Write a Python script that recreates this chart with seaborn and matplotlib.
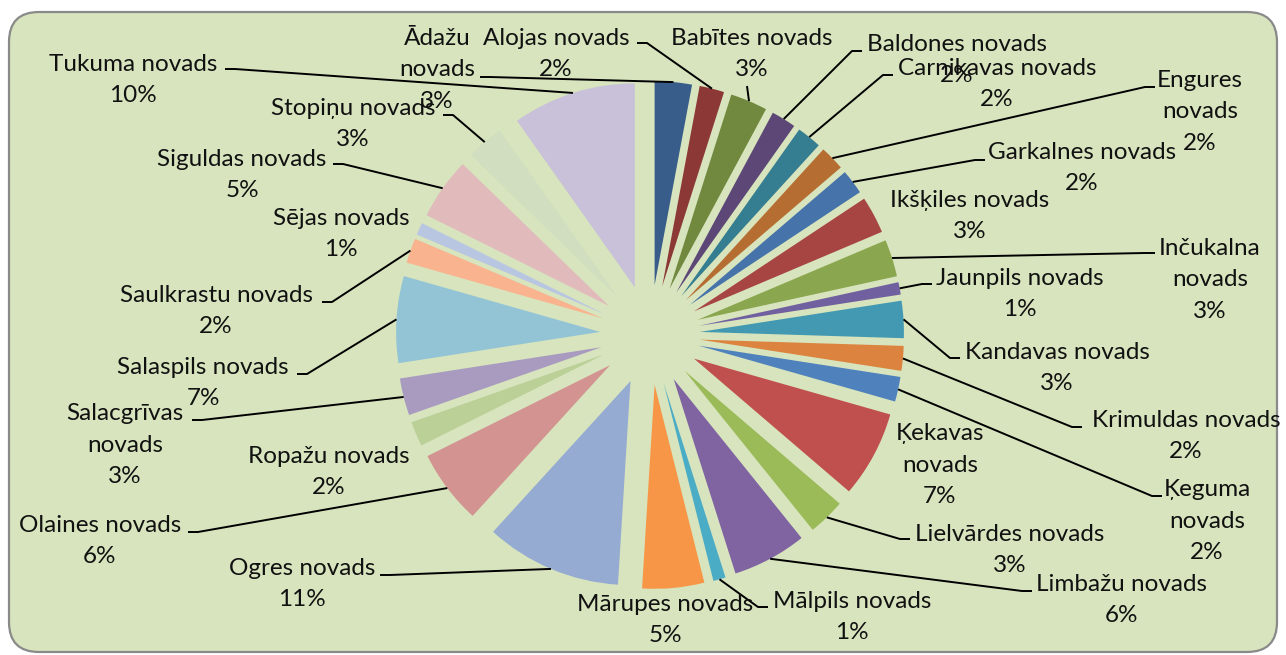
import matplotlib
matplotlib.use("Agg")
import matplotlib.pyplot as plt
from matplotlib.patches import FancyBboxPatch
import seaborn as sns
import numpy as np

# Novadi un to daļa (%)
novadi = [
    "Ādažu novads", "Alojas novads", "Babītes novads", "Baldones novads",
    "Carnikavas novads", "Engures novads", "Garkalnes novads", "Ikšķiles novads",
    "Inčukalna novads", "Jaunpils novads", "Kandavas novads", "Krimuldas novads",
    "Ķeguma novads", "Ķekavas novads", "Lielvārdes novads", "Limbažu novads",
    "Mālpils novads", "Mārupes novads", "Ogres novads", "Olaines novads",
    "Ropažu novads", "Salacgrīvas novads", "Salaspils novads", "Saulkrastu novads",
    "Sējas novads", "Siguldas novads", "Stopiņu novads", "Tukuma novads",
]
procenti = [3, 2, 3, 2, 2, 2, 2, 3, 3, 1, 3, 2, 2, 7, 3, 6, 1, 5, 11, 6, 2, 3, 7, 2, 1, 5, 3, 10]

# nosaukumi, kas etiķetē lauzti divās rindās
lauzti = {"Ādažu novads", "Engures novads", "Inčukalna novads", "Ķekavas novads",
          "Ķeguma novads", "Salacgrīvas novads"}

krasas = [
    "#385D8A", "#8C3836", "#71893F", "#5C4776", "#357D91", "#B66D31",
    "#4673AA", "#A74543", "#8AA64E", "#7160A0", "#4399B2", "#DC843F",
    "#4F81BD", "#C0504D", "#9BBB59", "#8064A2", "#4BACC6", "#F79646",
    "#95ABD2", "#D39391", "#BAD097", "#A99BC0", "#92C4D6", "#F9B48F",
    "#B9C6E2", "#E1BBBB", "#D1DEBF", "#C8C1D9",
]

# etiķešu centri un līniju sākumpunkti (attēla pikseļos, y no augšas)
etiketes_xy = [
    (437, 70), (556, 54), (752, 54), (957, 60), (997, 84), (1200, 112),
    (1082, 168), (970, 216), (1210, 280), (1020, 294), (1057, 368), (1186, 436),
    (1207, 521), (940, 465), (1010, 550), (1121, 600), (852, 617), (665, 620),
    (302, 584), (100, 541), (329, 472), (125, 445), (203, 383), (216, 311),
    (341, 234), (242, 175), (353, 124), (133, 80),
]
liniju_sakums = [
    (480, 77), (637, 43), (747, 86), (862, 51), (893, 75), (1155, 87),
    (985, 160), None, (1155, 253), (932, 284), (960, 358), (1082, 427),
    (1162, 496), None, (910, 539), (1032, 591), (768, 607), None,
    (380, 575), (188, 532), None, (192, 420), (297, 374), (322, 302),
    None, (333, 164), (443, 115), (225, 69),
]

W, H = 1286, 655
sns.set_theme(style="white")
plt.rcParams["font.family"] = ["Lato", "DejaVu Sans"]

fig = plt.figure(figsize=(W / 100, H / 100), dpi=100)
fig.patch.set_facecolor("white")
ax = fig.add_axes([0, 0, 1, 1])

fons = FancyBboxPatch((9, 3), 1268, 640, boxstyle="round,pad=0,rounding_size=30",
                      facecolor="#D7E4BD", edgecolor="#8A8A8A", linewidth=1.6, zorder=0)
ax.add_patch(fons)

cx, cy, r = 650, H - 335, 204
wedges, _ = ax.pie(procenti, colors=krasas, startangle=90, counterclock=False,
                   explode=[50] * len(procenti), center=(cx, cy), radius=r,
                   wedgeprops=dict(linewidth=0), frame=True)
ax.set_xlim(0, W)
ax.set_ylim(0, H)
ax.set_aspect("equal")
ax.axis("off")

for w, nosaukums, p, (tx, ty), sak in zip(wedges, novadi, procenti, etiketes_xy, liniju_sakums):
    if nosaukums in lauzti:
        teksts = nosaukums.replace(" ", "\n") + f"\n{p}%"
    else:
        teksts = f"{nosaukums}\n{p}%"
    ax.text(tx, H - ty, teksts, ha="center", va="center", fontsize=17.5,
            linespacing=1.6, color="#111111", zorder=5)
    if sak is None:
        continue
    # līnija uz ķīļa loka vidu
    sx, sy = sak[0], H - sak[1]
    wx, wy = w.center
    a = np.radians(0.5 * (w.theta1 + w.theta2))
    ex = wx + w.r * np.cos(a)
    ey = wy + w.r * np.sin(a)
    if abs(ex - sx) > 20:
        kx = sx + (10 if ex > sx else -10)
        xs, ys = [sx, kx, ex], [sy, sy, ey]
    else:
        xs, ys = [sx, ex], [sy, ey]
    ax.plot(xs, ys, color="black", linewidth=1.4, zorder=4, solid_capstyle="butt")

fig.savefig("out.png", dpi=100, facecolor="white")
